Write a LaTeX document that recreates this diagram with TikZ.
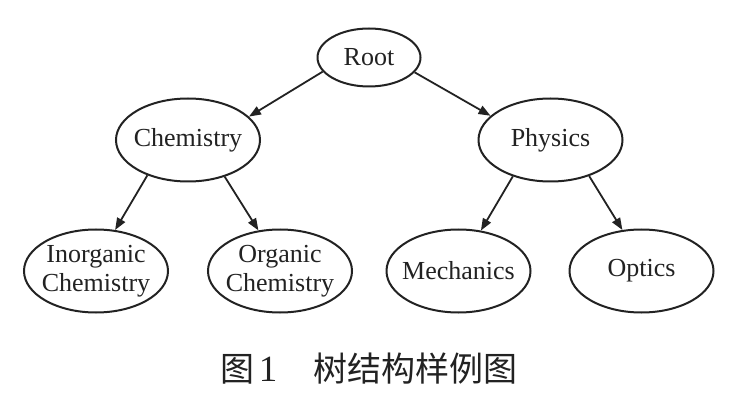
\documentclass[tikz,border=0pt]{standalone}
\usepackage{fontspec}
\setmainfont{Liberation Serif}
\newfontfamily\cjk{Noto Sans CJK SC}
\usetikzlibrary{arrows.meta,shapes.geometric}
\definecolor{ink}{HTML}{222222}
\begin{document}
\begin{tikzpicture}[x=1pt,y=-1pt,
  ell/.style={ellipse, draw=ink, line width=2pt, inner sep=0pt,
              minimum width=144pt, minimum height=83pt},
  lbl/.style={text=ink, font=\fontsize{26}{29}\selectfont, align=center, inner sep=0pt},
  captext/.style={text=ink, inner sep=0pt, anchor=base},
  arr/.style={draw=ink, line width=1.8pt, -{Triangle[length=12pt,width=9pt]}}]
\fill[white] (0,0) rectangle (744,406);
\useasboundingbox (0,0) rectangle (744,406);
% ellipses
\node[ell, minimum width=103pt, minimum height=58pt] (root) at (369,57.5) {};
\node[ell] (chem) at (188,140) {};
\node[ell] (phys) at (550.5,140) {};
\node[ell] (inorg) at (96,271) {};
\node[ell] (org) at (280,271) {};
\node[ell] (mech) at (458.5,271) {};
\node[ell] (opt) at (641.5,271) {};
% labels
\node[lbl] (troot) at (root) {Root};
\node[lbl] (tchem) at (chem) {Chemistry};
\node[lbl] (tphys) at (phys) {Physics};
\node[lbl] (tinorg) at (inorg) {Inorganic\\Chemistry};
\node[lbl] (torg) at (org) {Organic\\Chemistry};
\node[lbl] (tmech) at (mech) {Mechanics};
\node[lbl] (topt) at (opt) {Optics};
% connectors
\draw[arr] (root.197.1) -- (chem.21.2);
\draw[arr] (root.342.5) -- (phys.158.7);
\draw[arr] (chem.221.9) -- (inorg.65.1);
\draw[arr] (chem.315.8) -- (org.118.1);
\draw[arr] (phys.224.6) -- (mech.61.3);
\draw[arr] (phys.317.7) -- (opt.115.5);
% caption
\node[captext, font=\cjk\fontsize{34}{34}\selectfont] (cap1) at (237.5,381) {图};
\node[captext, font=\fontsize{37}{37}\selectfont] (cap2) at (268,381) {1};
\node[captext, font=\cjk\fontsize{34}{34}\selectfont] (cap3) at (415,381) {树结构样例图};
\end{tikzpicture}
\end{document}
